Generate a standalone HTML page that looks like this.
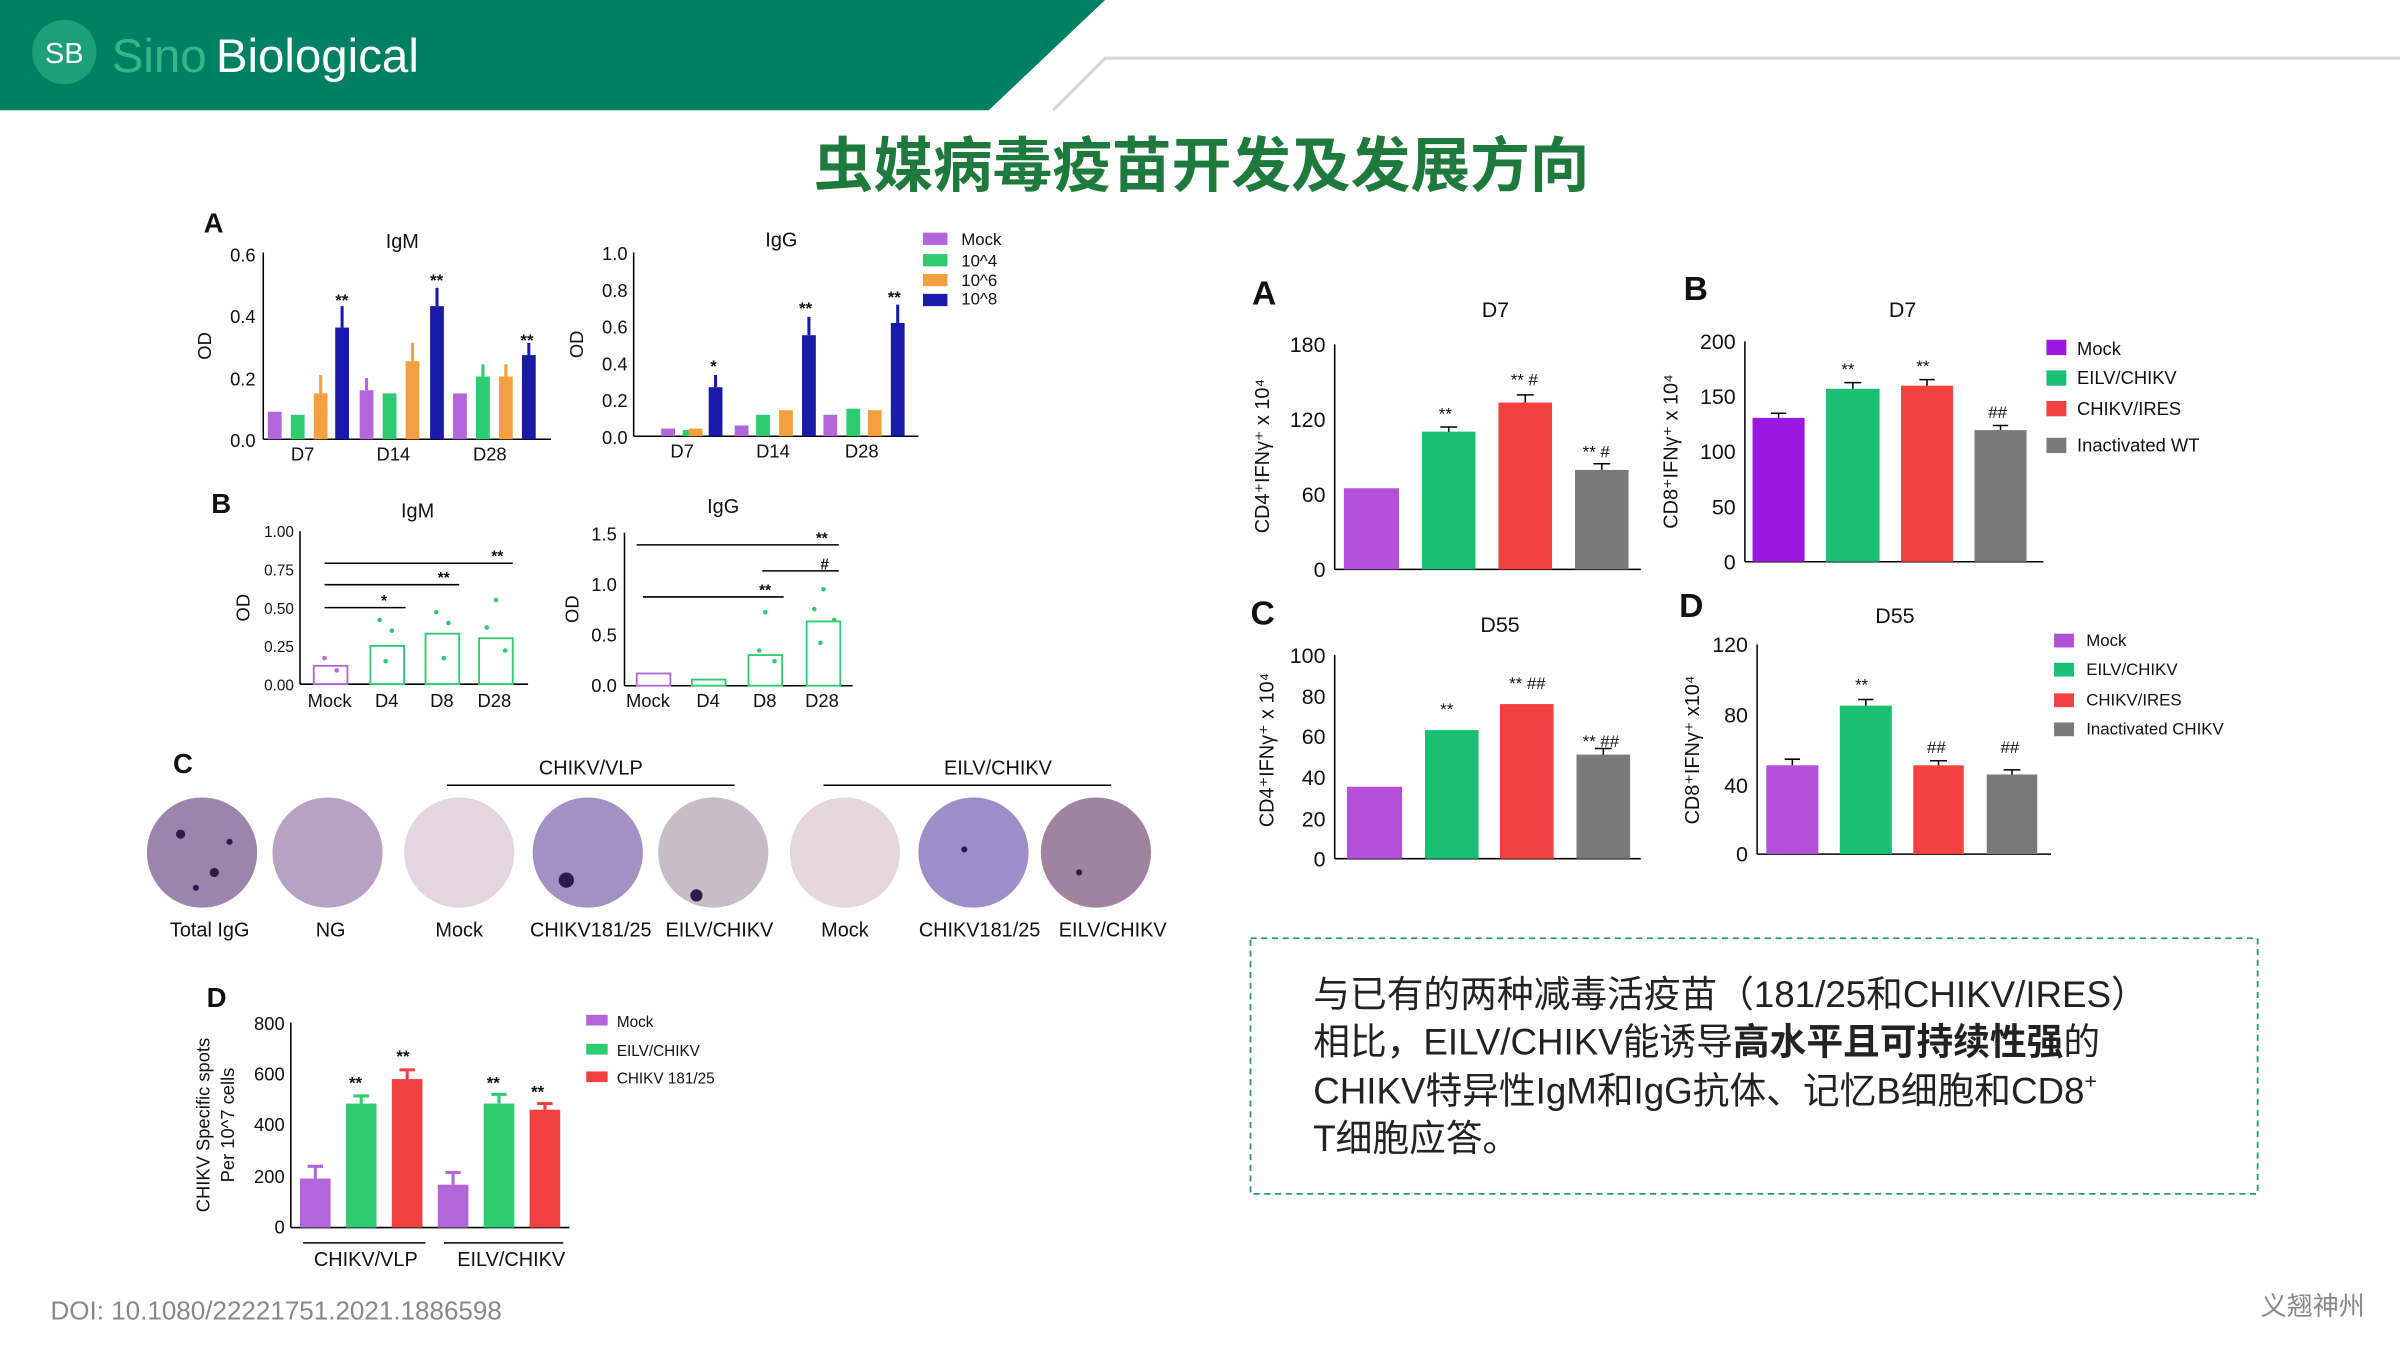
<!DOCTYPE html>
<html><head><meta charset="utf-8"><style>
html,body{margin:0;padding:0;background:#fff;}
svg{display:block;}
text{font-family:"Liberation Sans","Noto Sans CJK SC",sans-serif;}
</style></head><body>
<svg width="2400" height="1350" viewBox="0 0 1568 882" xmlns="http://www.w3.org/2000/svg">
<rect width="1568" height="882" fill="#fff"/>
<polygon points="0,0 722,0 646,72 0,72" fill="#008062"/>
<polyline points="688,72 722,38 1568,38" fill="none" stroke="#d6d6d6" stroke-width="2"/>
<circle cx="42" cy="34" r="21" fill="#1aa07a"/>
<text x="42" y="41" font-size="19" fill="#fff" text-anchor="middle">SB</text>
<text x="73" y="47" font-size="31" fill="#2fb88a">Sino</text>
<text x="141" y="47" font-size="31" fill="#fff">Biological</text>
<text x="785" y="122" font-size="39" font-weight="bold" fill="#1d7a3c" text-anchor="middle">虫媒病毒疫苗开发及发展方向</text>

<g font-size="12" fill="#111">
<text x="133" y="152" font-size="18" font-weight="bold">A</text>
<text x="252" y="162" font-size="13">IgM</text>
<line x1="172" y1="165" x2="172" y2="287" stroke="#000"/>
<line x1="172" y1="287" x2="360" y2="287" stroke="#000"/>
<g text-anchor="end"><text x="167" y="171">0.6</text><text x="167" y="211">0.4</text><text x="167" y="252">0.2</text><text x="167" y="292">0.0</text></g>
<text x="138" y="226" transform="rotate(-90 138 226)" text-anchor="middle">OD</text>
<g><rect x="175" y="269" width="9" height="18" fill="#b266d9"/><rect x="190" y="271" width="9" height="16" fill="#2ecc71"/><rect x="205" y="257" width="9" height="30" fill="#f5a040"/><rect x="219" y="214" width="9" height="73" fill="#1a1aa8"/>
<rect x="235" y="255" width="9" height="32" fill="#b266d9"/><rect x="250" y="257" width="9" height="30" fill="#2ecc71"/><rect x="265" y="236" width="9" height="51" fill="#f5a040"/><rect x="281" y="200" width="9" height="87" fill="#1a1aa8"/>
<rect x="296" y="257" width="9" height="30" fill="#b266d9"/><rect x="311" y="246" width="9" height="41" fill="#2ecc71"/><rect x="326" y="246" width="9" height="41" fill="#f5a040"/><rect x="341" y="232" width="9" height="55" fill="#1a1aa8"/></g>
<g stroke-width="2" fill="none"><path d="M223.5 214v-14" stroke="#1a1aa8"/><path d="M285.5 200v-12" stroke="#1a1aa8"/><path d="M345.5 232v-8" stroke="#1a1aa8"/><path d="M209.5 257v-12" stroke="#f5a040"/><path d="M269.5 236v-12" stroke="#f5a040"/><path d="M239.5 255v-8" stroke="#b266d9"/><path d="M315.5 246v-8" stroke="#2ecc71"/><path d="M330.5 246v-8" stroke="#f5a040"/></g>
<g font-size="11" font-weight="bold"><text x="219" y="200">**</text><text x="281" y="187">**</text><text x="340" y="226">**</text></g>
<text x="190" y="301">D7</text><text x="246" y="301">D14</text><text x="309" y="301">D28</text>
<text x="500" y="161" font-size="13">IgG</text>
<line x1="414" y1="165" x2="414" y2="285" stroke="#000"/>
<line x1="414" y1="285" x2="600" y2="285" stroke="#000"/>
<g text-anchor="end"><text x="410" y="170">1.0</text><text x="410" y="194">0.8</text><text x="410" y="218">0.6</text><text x="410" y="242">0.4</text><text x="410" y="266">0.2</text><text x="410" y="290">0.0</text></g>
<text x="381" y="225" transform="rotate(-90 381 225)" text-anchor="middle">OD</text>
<rect x="432" y="280" width="9" height="5" fill="#b266d9"/><rect x="446" y="281" width="9" height="4" fill="#2ecc71"/><rect x="450" y="280" width="9" height="5" fill="#f5a040"/><rect x="463" y="253" width="9" height="32" fill="#1a1aa8"/>
<rect x="480" y="278" width="9" height="7" fill="#b266d9"/><rect x="494" y="271" width="9" height="14" fill="#2ecc71"/><rect x="509" y="268" width="9" height="17" fill="#f5a040"/><rect x="524" y="219" width="9" height="66" fill="#1a1aa8"/>
<rect x="538" y="271" width="9" height="14" fill="#b266d9"/><rect x="553" y="267" width="9" height="18" fill="#2ecc71"/><rect x="567" y="268" width="9" height="17" fill="#f5a040"/><rect x="582" y="211" width="9" height="74" fill="#1a1aa8"/>
<g stroke-width="2" stroke="#1a1aa8"><path d="M467.5 253v-8"/><path d="M528.5 219v-12"/><path d="M586.5 211v-12"/></g>
<g font-size="11" font-weight="bold"><text x="464" y="243">*</text><text x="522" y="205">**</text><text x="580" y="198">**</text></g>
<text x="438" y="299">D7</text><text x="494" y="299">D14</text><text x="552" y="299">D28</text>
<g font-size="11"><rect x="603" y="152" width="16" height="8" fill="#b266d9"/><text x="628" y="160">Mock</text>
<rect x="603" y="166" width="16" height="8" fill="#2ecc71"/><text x="628" y="174">10^4</text>
<rect x="603" y="179" width="16" height="8" fill="#f5a040"/><text x="628" y="187">10^6</text>
<rect x="603" y="192" width="16" height="8" fill="#1a1aa8"/><text x="628" y="199">10^8</text></g>

<text x="138" y="335" font-size="18" font-weight="bold">B</text>
<text x="262" y="338" font-size="13">IgM</text>
<line x1="196" y1="347" x2="196" y2="447" stroke="#000"/><line x1="196" y1="447" x2="345" y2="447" stroke="#000"/>
<g text-anchor="end" font-size="10"><text x="192" y="351">1.00</text><text x="192" y="376">0.75</text><text x="192" y="401">0.50</text><text x="192" y="426">0.25</text><text x="192" y="451">0.00</text></g>
<text x="163" y="397" transform="rotate(-90 163 397)" text-anchor="middle">OD</text>
<g stroke="#000" fill="none"><line x1="212" y1="368" x2="335" y2="368"/><line x1="212" y1="382" x2="300" y2="382"/><line x1="212" y1="397" x2="265" y2="397"/></g>
<g stroke="#2ecc71" fill="none" stroke-width="1.2"><rect x="205" y="435" width="22" height="12" stroke="#b266d9"/><rect x="242" y="422" width="22" height="25"/><rect x="278" y="414" width="22" height="33"/><rect x="313" y="417" width="22" height="30"/></g>
<g fill="#2ecc71"><circle cx="248" cy="405" r="1.5"/><circle cx="256" cy="412" r="1.5"/><circle cx="252" cy="432" r="1.5"/><circle cx="285" cy="400" r="1.5"/><circle cx="293" cy="407" r="1.5"/><circle cx="290" cy="430" r="1.5"/><circle cx="324" cy="392" r="1.5"/><circle cx="318" cy="410" r="1.5"/><circle cx="330" cy="425" r="1.5"/><circle cx="212" cy="430" r="1.5" fill="#b266d9"/><circle cx="220" cy="438" r="1.5" fill="#b266d9"/></g>
<g font-size="10" font-weight="bold"><text x="321" y="367">**</text><text x="286" y="381">**</text><text x="249" y="396">*</text></g>
<text x="201" y="462">Mock</text><text x="245" y="462">D4</text><text x="281" y="462">D8</text><text x="312" y="462">D28</text>
<text x="462" y="335" font-size="13">IgG</text>
<line x1="408" y1="348" x2="408" y2="448" stroke="#000"/><line x1="408" y1="448" x2="557" y2="448" stroke="#000"/>
<g text-anchor="end"><text x="403" y="353">1.5</text><text x="403" y="386">1.0</text><text x="403" y="419">0.5</text><text x="403" y="452">0.0</text></g>
<text x="378" y="398" transform="rotate(-90 378 398)" text-anchor="middle">OD</text>
<g stroke="#000"><line x1="416" y1="356" x2="548" y2="356"/><line x1="498" y1="373" x2="548" y2="373"/><line x1="420" y1="390" x2="512" y2="390"/></g>
<g stroke="#2ecc71" fill="none" stroke-width="1.2"><rect x="416" y="440" width="22" height="8" stroke="#b266d9"/><rect x="452" y="444" width="22" height="4"/><rect x="489" y="428" width="22" height="20"/><rect x="527" y="406" width="22" height="42"/></g>
<g fill="#2ecc71"><circle cx="500" cy="400" r="1.5"/><circle cx="496" cy="425" r="1.5"/><circle cx="506" cy="432" r="1.5"/><circle cx="538" cy="385" r="1.5"/><circle cx="532" cy="398" r="1.5"/><circle cx="545" cy="405" r="1.5"/><circle cx="536" cy="420" r="1.5"/></g>
<g font-size="10" font-weight="bold"><text x="533" y="355">**</text><text x="536" y="372">#</text><text x="496" y="389">**</text></g>
<text x="409" y="462">Mock</text><text x="455" y="462">D4</text><text x="492" y="462">D8</text><text x="526" y="462">D28</text>

<text x="113" y="505" font-size="18" font-weight="bold">C</text>
<text x="386" y="506" font-size="13" text-anchor="middle">CHIKV/VLP</text>
<text x="652" y="506" font-size="13" text-anchor="middle">EILV/CHIKV</text>
<line x1="292" y1="513" x2="480" y2="513" stroke="#000"/><line x1="538" y1="513" x2="726" y2="513" stroke="#000"/>
<circle cx="132" cy="557" r="36" fill="#c8b4d4"/><circle cx="132" cy="557" r="36" fill="#6e5585" opacity="0.5"/>
<circle cx="214" cy="557" r="36" fill="#b7a2c4"/>
<circle cx="300" cy="557" r="36" fill="#e4d6de"/>
<circle cx="384" cy="557" r="36" fill="#a391c4"/>
<circle cx="466" cy="557" r="36" fill="#c8bcc8"/>
<circle cx="552" cy="557" r="36" fill="#e6d7dc"/>
<circle cx="636" cy="557" r="36" fill="#9c8ec8"/>
<circle cx="716" cy="557" r="36" fill="#a0839e"/>
<g fill="#2b1c4a"><circle cx="118" cy="545" r="3"/><circle cx="140" cy="570" r="3"/><circle cx="128" cy="580" r="2"/><circle cx="150" cy="550" r="2"/><circle cx="370" cy="575" r="5"/><circle cx="455" cy="585" r="4"/><circle cx="630" cy="555" r="2"/><circle cx="705" cy="570" r="2"/></g>
<g font-size="13" text-anchor="middle"><text x="137" y="612">Total IgG</text><text x="216" y="612">NG</text><text x="300" y="612">Mock</text><text x="386" y="612">CHIKV181/25</text><text x="470" y="612">EILV/CHIKV</text><text x="552" y="612">Mock</text><text x="640" y="612">CHIKV181/25</text><text x="727" y="612">EILV/CHIKV</text></g>

<text x="135" y="658" font-size="18" font-weight="bold">D</text>
<line x1="190" y1="668" x2="190" y2="802" stroke="#000"/><line x1="190" y1="802" x2="372" y2="802" stroke="#000"/>
<g text-anchor="end"><text x="186" y="673">800</text><text x="186" y="706">600</text><text x="186" y="739">400</text><text x="186" y="773">200</text><text x="186" y="806">0</text></g>
<text x="137" y="735" transform="rotate(-90 137 735)" text-anchor="middle">CHIKV Specific spots</text>
<text x="153" y="735" transform="rotate(-90 153 735)" text-anchor="middle">Per 10^7 cells</text>
<rect x="196" y="770" width="20" height="32" fill="#b266d9"/><rect x="226" y="721" width="20" height="81" fill="#2ecc71"/><rect x="256" y="705" width="20" height="97" fill="#f04040"/>
<rect x="286" y="774" width="20" height="28" fill="#b266d9"/><rect x="316" y="721" width="20" height="81" fill="#2ecc71"/><rect x="346" y="725" width="20" height="77" fill="#f04040"/>
<g stroke-width="2"><path d="M206 770v-8M201 762h10" stroke="#b266d9"/><path d="M296 774v-8M291 766h10" stroke="#b266d9"/><path d="M236 721v-5M231 716h10" stroke="#2ecc71"/><path d="M326 721v-6M321 715h10" stroke="#2ecc71"/><path d="M266 705v-6M261 699h10" stroke="#f04040"/><path d="M356 725v-4M351 721h10" stroke="#f04040"/></g>
<g font-size="11" font-weight="bold"><text x="228" y="711">**</text><text x="259" y="694">**</text><text x="318" y="711">**</text><text x="347" y="717">**</text></g>
<line x1="198" y1="812" x2="278" y2="812" stroke="#000"/><line x1="290" y1="812" x2="368" y2="812" stroke="#000"/>
<text x="239" y="827" font-size="13" text-anchor="middle">CHIKV/VLP</text><text x="334" y="827" font-size="13" text-anchor="middle">EILV/CHIKV</text>
<g font-size="10"><rect x="383" y="663" width="14" height="7" fill="#b266d9"/><text x="403" y="671">Mock</text>
<rect x="383" y="682" width="14" height="7" fill="#2ecc71"/><text x="403" y="690">EILV/CHIKV</text>
<rect x="383" y="700" width="14" height="7" fill="#f04040"/><text x="403" y="708">CHIKV 181/25</text></g>
</g>

<g font-size="14" fill="#111">
<text x="818" y="199" font-size="22" font-weight="bold">A</text>
<text x="977" y="207" text-anchor="middle">D7</text>
<line x1="872" y1="225" x2="872" y2="372" stroke="#000"/><line x1="872" y1="372" x2="1072" y2="372" stroke="#000"/>
<g text-anchor="end"><text x="866" y="230">180</text><text x="866" y="279">120</text><text x="866" y="328">60</text><text x="866" y="377">0</text></g>
<text x="829" y="298" transform="rotate(-90 829 298)" text-anchor="middle" font-size="13">CD4⁺IFNγ⁺ x 10⁴</text>
<rect x="878" y="319" width="36" height="53" fill="#b34fd9"/><rect x="929" y="282" width="35" height="90" fill="#1abf73"/><rect x="979" y="263" width="35" height="109" fill="#f24141"/><rect x="1029" y="307" width="35" height="65" fill="#7a7a7a"/>
<g stroke="#000"><path d="M946.5 282v-3M941 279h11M996.5 263v-5M991 258h11M1046.5 307v-4M1041 303h11"/></g>
<g font-size="11"><text x="940" y="274">**</text><text x="987" y="252">** #</text><text x="1034" y="299">** #</text></g>

<text x="1100" y="196" font-size="22" font-weight="bold">B</text>
<text x="1243" y="207" text-anchor="middle">D7</text>
<line x1="1140" y1="223" x2="1140" y2="367" stroke="#000"/><line x1="1140" y1="367" x2="1335" y2="367" stroke="#000"/>
<g text-anchor="end"><text x="1134" y="228">200</text><text x="1134" y="264">150</text><text x="1134" y="300">100</text><text x="1134" y="336">50</text><text x="1134" y="372">0</text></g>
<text x="1096" y="295" transform="rotate(-90 1096 295)" text-anchor="middle" font-size="13">CD8⁺IFNγ⁺ x 10⁴</text>
<rect x="1145" y="273" width="34" height="94" fill="#9a18e0"/><rect x="1193" y="254" width="35" height="113" fill="#1abf73"/><rect x="1242" y="252" width="34" height="115" fill="#f24141"/><rect x="1290" y="281" width="34" height="86" fill="#7a7a7a"/>
<g stroke="#000"><path d="M1162 273v-3M1157 270h10M1210.5 254v-4M1205 250h11M1259 252v-4M1254 248h10M1307 281v-3M1302 278h10"/></g>
<g font-size="11"><text x="1203" y="245">**</text><text x="1252" y="243">**</text><text x="1299" y="273">##</text></g>
<g font-size="12"><rect x="1337" y="222" width="13" height="10" fill="#9a18e0"/><text x="1357" y="232">Mock</text>
<rect x="1337" y="242" width="13" height="10" fill="#1abf73"/><text x="1357" y="251">EILV/CHIKV</text>
<rect x="1337" y="262" width="13" height="10" fill="#f24141"/><text x="1357" y="271">CHIKV/IRES</text>
<rect x="1337" y="286" width="13" height="10" fill="#7a7a7a"/><text x="1357" y="295">Inactivated WT</text></g>

<text x="817" y="408" font-size="22" font-weight="bold">C</text>
<text x="980" y="413" text-anchor="middle">D55</text>
<line x1="872" y1="428" x2="872" y2="561" stroke="#000"/><line x1="872" y1="561" x2="1072" y2="561" stroke="#000"/>
<g text-anchor="end"><text x="866" y="433">100</text><text x="866" y="460">80</text><text x="866" y="486">60</text><text x="866" y="513">40</text><text x="866" y="540">20</text><text x="866" y="566">0</text></g>
<text x="832" y="490" transform="rotate(-90 832 490)" text-anchor="middle" font-size="13">CD4⁺IFNγ⁺ x 10⁴</text>
<rect x="880" y="514" width="36" height="47" fill="#b34fd9"/><rect x="931" y="477" width="35" height="84" fill="#1abf73"/><rect x="980" y="460" width="35" height="101" fill="#f24141"/><rect x="1030" y="493" width="35" height="68" fill="#7a7a7a"/>
<g stroke="#000"><path d="M1047.5 493v-4M1042 489h11"/></g>
<g font-size="11"><text x="941" y="467">**</text><text x="986" y="450">** ##</text><text x="1034" y="488">** ##</text></g>

<text x="1097" y="403" font-size="22" font-weight="bold">D</text>
<text x="1238" y="407" text-anchor="middle">D55</text>
<line x1="1148" y1="421" x2="1148" y2="558" stroke="#000"/><line x1="1148" y1="558" x2="1340" y2="558" stroke="#000"/>
<g text-anchor="end"><text x="1142" y="426">120</text><text x="1142" y="472">80</text><text x="1142" y="518">40</text><text x="1142" y="563">0</text></g>
<text x="1110" y="490" transform="rotate(-90 1110 490)" text-anchor="middle" font-size="13">CD8⁺IFNγ⁺ x10⁴</text>
<rect x="1154" y="500" width="34" height="58" fill="#b34fd9"/><rect x="1202" y="461" width="34" height="97" fill="#1abf73"/><rect x="1250" y="500" width="33" height="58" fill="#f24141"/><rect x="1298" y="506" width="33" height="52" fill="#7a7a7a"/>
<g stroke="#000"><path d="M1171 500v-4M1166 496h10M1219 461v-4M1214 457h10M1266.5 500v-3M1261 497h11M1314.5 506v-3M1309 503h11"/></g>
<g font-size="11"><text x="1212" y="451">**</text><text x="1259" y="492">##</text><text x="1307" y="492">##</text></g>
<g font-size="11"><rect x="1342" y="414" width="13" height="9" fill="#b34fd9"/><text x="1363" y="422">Mock</text>
<rect x="1342" y="433" width="13" height="9" fill="#1abf73"/><text x="1363" y="441">EILV/CHIKV</text>
<rect x="1342" y="453" width="13" height="9" fill="#f24141"/><text x="1363" y="461">CHIKV/IRES</text>
<rect x="1342" y="472" width="13" height="9" fill="#7a7a7a"/><text x="1363" y="480">Inactivated CHIKV</text></g>
</g>

<rect x="817" y="613" width="658" height="167" fill="none" stroke="#2a9a6a" stroke-width="1.2" stroke-dasharray="4,3"/>
<g font-size="24" fill="#222">
<text x="858" y="658">与已有的两种减毒活疫苗（181/25和CHIKV/IRES）</text>
<text x="858" y="689">相比，EILV/CHIKV能诱导<tspan font-weight="bold">高水平且可持续性强</tspan>的</text>
<text x="858" y="721">CHIKV特异性IgM和IgG抗体、记忆B细胞和CD8<tspan font-size="14" dy="-10">+</tspan></text>
<text x="858" y="752">T细胞应答。</text>
</g>
<text x="33" y="862" font-size="17" fill="#888">DOI: 10.1080/22221751.2021.1886598</text>
<text x="1545" y="859" font-size="17" fill="#888" text-anchor="end">义翘神州</text>
</svg>
</body></html>
